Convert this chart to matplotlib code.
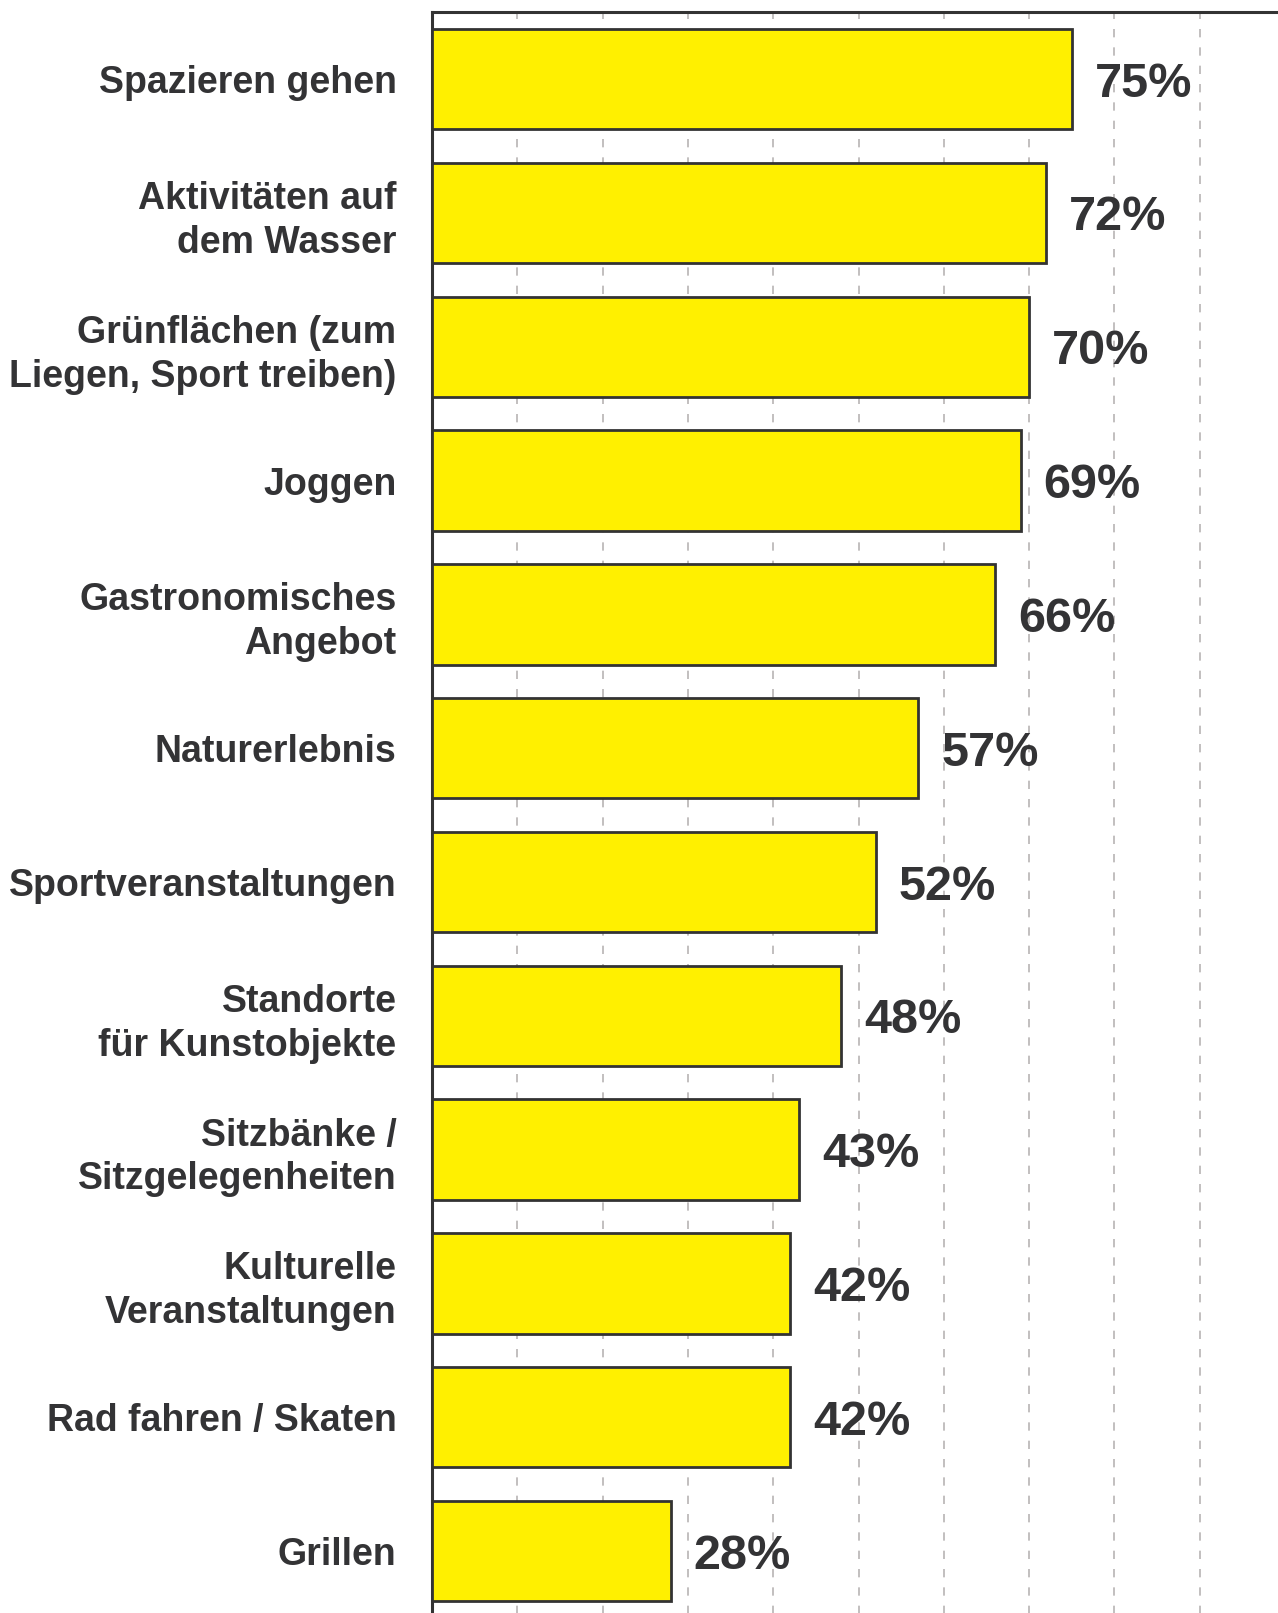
import matplotlib as mpl
mpl.use('Agg')
from matplotlib import pyplot as plt

# data
categories = ['Spazieren gehen',
              'Aktivitäten auf\ndem Wasser',
              'Grünflächen (zum\nLiegen, Sport treiben)',
              'Joggen',
              'Gastronomisches\nAngebot',
              'Naturerlebnis',
              'Sportveranstaltungen',
              'Standorte\nfür Kunstobjekte',
              'Sitzbänke /\nSitzgelegenheiten',
              'Kulturelle\nVeranstaltungen',
              'Rad fahren / Skaten',
              'Grillen']
values = [75, 72, 70, 69, 66, 57, 52, 48, 43, 42, 42, 28]
value_labels = ['75%', '72%', '70%', '69%', '66%', '57%', '52%', '48%', '43%', '42%', '42%', '28%']
grid_ticks = [10, 20, 30, 40, 50, 60, 70, 80, 90]

plt.rcParams['font.family'] = ['Liberation Sans', 'DejaVu Sans']
text_col = '#333335'

W, H = 1278, 1613
fig = plt.figure(figsize=(W / 100, H / 100), dpi=100)
# axes placed in pixel units
left, top, pitch = 432, 12.3, 133.8
n = len(categories)
ax_h = pitch * n
ax = fig.add_axes([left / W, (H - top - ax_h) / H, 853 / W, ax_h / H])

pos = list(range(n))
ax.barh(pos, values, height=0.75, color='#fff000', edgecolor='#333333',
        linewidth=2, zorder=3)

for p, v, lab in zip(pos, values, value_labels):
    ax.text(v + 2.7, p, lab, ha='left', va='center_baseline', fontsize=35,
            fontweight='bold', color=text_col, zorder=4)

ax.set_xlim(0, 100)
ax.set_ylim(n - 0.5, -0.5)
ax.set_xticks(grid_ticks)
ax.set_xticklabels([])
ax.tick_params(axis='x', length=0)
ax.xaxis.grid(True, color='#b8b4b4', linestyle=(0, (5, 6)), linewidth=1.2, zorder=0)
ax.set_yticks(pos)
ax.set_yticklabels(categories, fontsize=27, fontweight='bold', color=text_col,
                   linespacing=1.28)
ax.tick_params(axis='y', length=0, pad=25.5)

for s in ['top', 'left']:
    ax.spines[s].set_color('#333333')
    ax.spines[s].set_linewidth(2.2)
for s in ['right', 'bottom']:
    ax.spines[s].set_visible(False)

fig.savefig('out.png', dpi=100)
